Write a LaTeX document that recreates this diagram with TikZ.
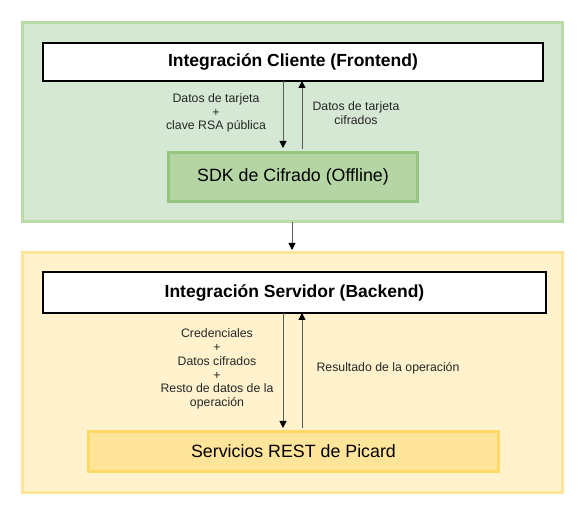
\documentclass[tikz,border=0pt]{standalone}
\usepackage{fontspec}
\setmainfont{Liberation Sans}
\usetikzlibrary{arrows.meta}
\definecolor{gfill}{HTML}{D5E8D4}
\definecolor{gline}{HTML}{B9DCA6}
\definecolor{sdkfill}{HTML}{B5D6A4}
\definecolor{sdkline}{HTML}{97C47F}
\definecolor{yfill}{HTML}{FFF2CC}
\definecolor{yline}{HTML}{FFE599}
\definecolor{rfill}{HTML}{FFE599}
\definecolor{rline}{HTML}{FFD966}
\definecolor{conn}{HTML}{5A5A5A}
\tikzset{
  container/.style={draw=#1, line width=3pt},
  whitebox/.style={draw=black, fill=white, line width=2pt, font=\fontsize{17.5}{20}\selectfont\bfseries},
  inner/.style={line width=3pt, font=\fontsize{17.8}{20}\selectfont},
  lbl/.style={font=\fontsize{12.3}{13.8}\selectfont, align=center, text=black!85, inner sep=0pt},
  conarrow/.style={draw=conn, line width=1pt, -{Triangle[length=7pt,width=7pt,fill=black,color=black]}}
}
\begin{document}
\begin{tikzpicture}[x=1pt,y=-1pt]
\useasboundingbox (0,0) rectangle (582,513);
% containers
\node[container=gline, fill=gfill, minimum width=540pt, minimum height=199pt, anchor=north west, inner sep=0pt] (front) at (21,21) {};
\node[container=yline, fill=yfill, minimum width=540pt, minimum height=240pt, anchor=north west, inner sep=0pt] (back) at (21,251) {};
% white boxes
\node[whitebox, minimum width=500pt, minimum height=38pt, anchor=north west, inner sep=0pt] (cli) at (42,42) {Integración Cliente (Frontend)};
\node[whitebox, minimum width=503pt, minimum height=41pt, anchor=north west, inner sep=0pt] (srv) at (42,271) {Integración Servidor (Backend)};
% inner boxes
\node[inner, draw=sdkline, fill=sdkfill, minimum width=249pt, minimum height=49pt, anchor=north west, inner sep=0pt] (sdk) at (167,151) {SDK de Cifrado (Offline)};
\node[inner, draw=rline, fill=rfill, minimum width=410pt, minimum height=40pt, anchor=north west, inner sep=0pt] (rest) at (87,430) {Servicios REST de Picard};
% coordinates for arrows
\coordinate (c1) at (283,81);
\coordinate (c1e) at (283,148);
\coordinate (c2) at (302,149);
\coordinate (c2e) at (302,81);
\draw[conarrow] (c1) -- (c1e);
\draw[conarrow] (c2) -- (c2e);
\coordinate (m1) at (292,222);
\coordinate (m1e) at (292,250);
\draw[conarrow] (m1) -- (m1e);
\coordinate (d1) at (283,313);
\coordinate (d1e) at (283,428);
\coordinate (d2) at (302,428);
\coordinate (d2e) at (302,313);
\draw[conarrow] (d1) -- (d1e);
\draw[conarrow] (d2) -- (d2e);
% labels
\node[lbl] (l1) at (216,113) {Datos de tarjeta\\+\\clave RSA pública};
\node[lbl] (l2) at (356,113) {Datos de tarjeta\\cifrados};
\node[lbl] (l3) at (217,369) {Credenciales\\+\\Datos cifrados\\+\\Resto de datos de la\\operación};
\node[lbl] (l4) at (388,368) {Resultado de la operación};
\end{tikzpicture}
\end{document}
